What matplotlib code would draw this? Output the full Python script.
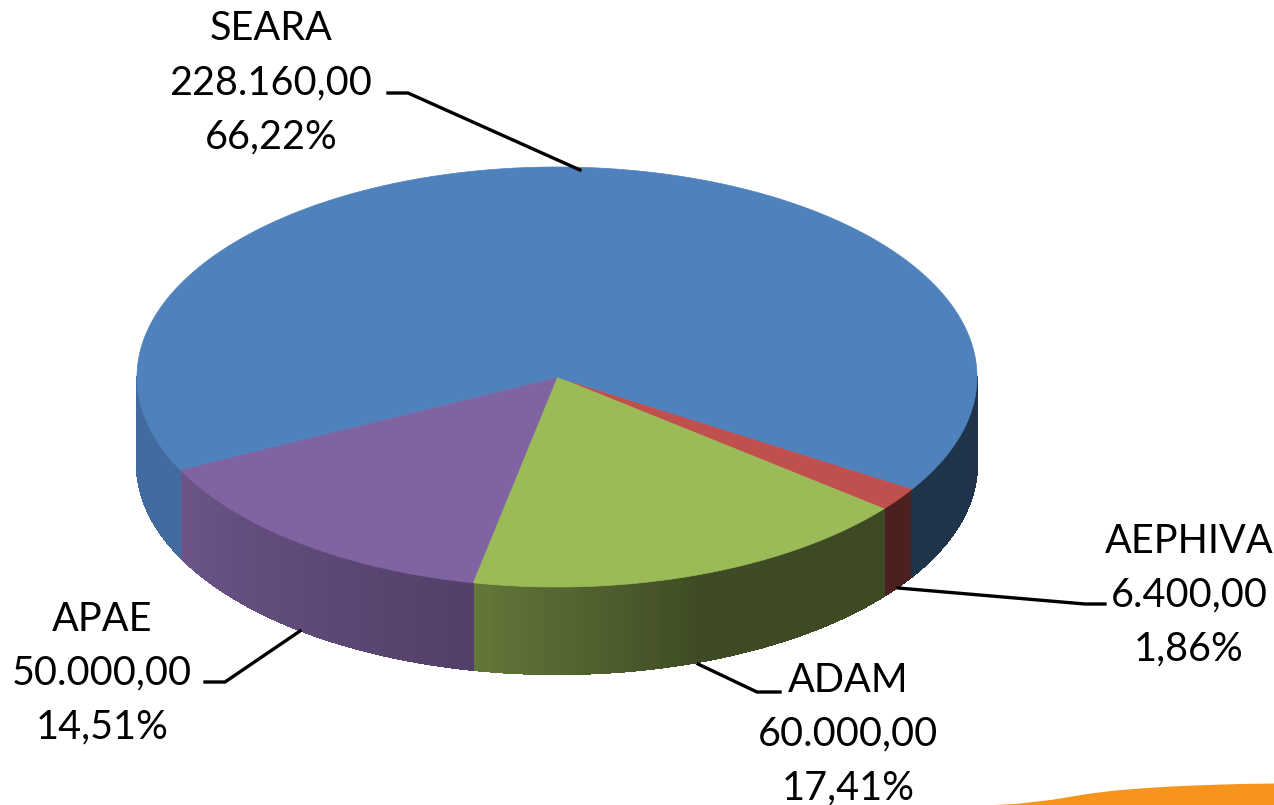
import numpy as np
import matplotlib
matplotlib.use("Agg")
import matplotlib.pyplot as plt
from matplotlib.patches import Polygon

# pie data, clockwise starting from the slice right of the front
names  = ["AEPHIVA", "ADAM", "APAE", "SEARA"]
values = [6400.0, 60000.0, 50000.0, 228160.0]
colors = ["#C0504D", "#9BBB59", "#8064A2", "#4F81BD"]

# ellipse of the top face, in image pixels
CX, CY = 557, 377
RX, RY = 420, 210
DEPTH  = 87
START  = 32.2  # deg, clockwise on screen

label_xy = {"SEARA": (271, 29), "AEPHIVA": (1189, 541),
            "ADAM": (848, 680), "APAE": (102, 619)}
leaders = {"SEARA": [(388, 93), (408, 93), (580, 170)],
           "AEPHIVA": [(898, 588), (1085, 604), (1105, 604)],
           "ADAM": [(698, 664), (757, 692), (780, 692)],
           "APAE": [(205, 682), (225, 682), (300, 631)]}


def rim(t_deg, dy=0.0):
    t = np.radians(t_deg)
    return CX + RX * np.cos(t), CY + dy + RY * np.sin(t)


def side_shade(t_deg):
    # dark on the right, lighter towards the left of the wall
    return np.interp(t_deg, [0, 70, 101.6, 153.8, 180],
                     [0.39, 0.40, 0.64, 0.84, 0.84])


def draw_wall(ax, t0, t1, color):
    base = np.array(matplotlib.colors.to_rgb(color))
    edges = np.arange(t0, t1, 1.0)
    edges = np.append(edges, t1)
    for a, b in zip(edges[:-1], edges[1:]):
        x0, y0 = rim(a)
        x1, y1 = rim(b)
        c = base * side_shade((a + b) / 2)
        # no antialiasing here, otherwise white seams show between strips
        ax.add_patch(Polygon([(x0, y0), (x1, y1), (x1, y1 + DEPTH), (x0, y0 + DEPTH)],
                             closed=True, fc=c, ec=c, lw=1.0, antialiased=False, zorder=2))


def money(v):
    return f"{v:,.2f}".replace(",", "#").replace(".", ",").replace("#", ".")


fig = plt.figure(figsize=(12.74, 8.05), dpi=100)
ax = fig.add_axes([0, 0, 1, 1])
ax.set_xlim(0, 1274)
ax.set_ylim(805, 0)
ax.axis("off")

total = sum(values)
angle = START
for name, v, col in zip(names, values, colors):
    sweep = 360.0 * v / total
    end = angle + sweep
    # visible wall only between 0 and 180 deg
    for lo, hi in [(angle, end), (angle - 360, end - 360)]:
        a, b = max(lo, 0), min(hi, 180)
        if b > a:
            draw_wall(ax, a, b, col)
    tt = np.linspace(angle, end, max(int(sweep * 2), 4))
    xs, ys = rim(tt)
    pts = np.vstack([[CX, CY], np.column_stack([xs, ys])])
    ax.add_patch(Polygon(pts, closed=True, fc=col, ec=col, lw=0.5, zorder=3))
    angle = end

# leader lines and labels
for name, v in zip(names, values):
    xs, ys = zip(*leaders[name])
    ax.plot(xs, ys, color="black", lw=2.4, zorder=4, solid_joinstyle="miter")
    x, y = label_xy[name]
    lines = [name, money(v), f"{100 * v / total:.2f}%".replace(".", ",")]
    for i, s in enumerate(lines):
        ax.text(x, y + i * 54, s, family="Lato", fontsize=28.5, color="black",
                ha="center", va="center", zorder=5)

# orange swoosh of the slide template, bottom right corner
sx = np.array([983, 1015, 1050, 1090, 1115, 1140, 1170, 1207, 1240, 1274])
sy = np.array([805, 803.5, 799.5, 793, 790, 788, 786, 784.5, 783.5, 783])
ax.fill_between(sx, sy, 806, color="#F7941E", lw=0, zorder=1)

fig.savefig("out.png", dpi=100)
